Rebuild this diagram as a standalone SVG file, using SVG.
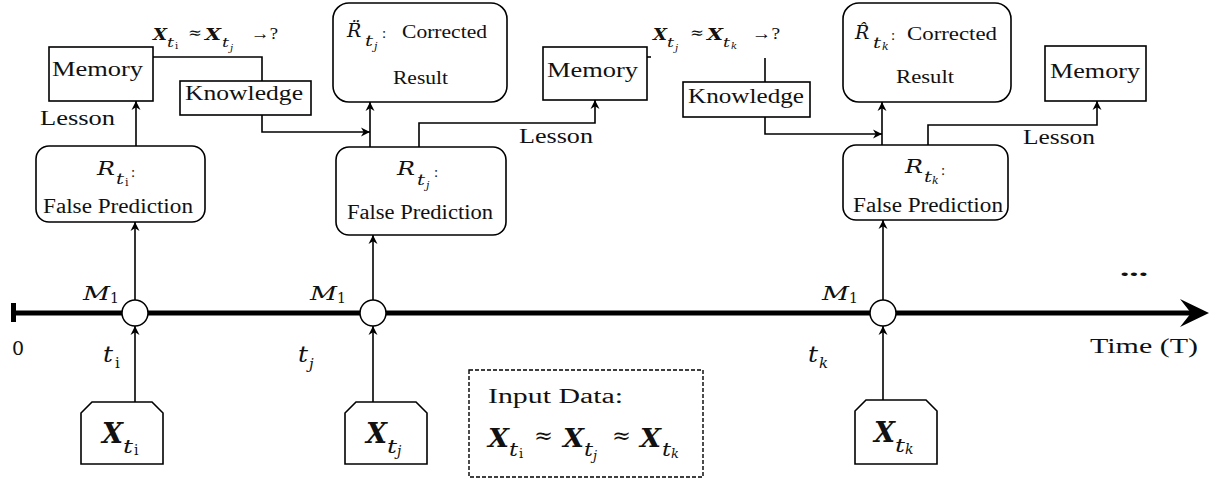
<svg xmlns="http://www.w3.org/2000/svg" width="1211" height="479" viewBox="0 0 1211 479">
  <defs>
    <style>
      .box { fill: #fff; stroke: #000; stroke-width: 1.6; }
      .dash { fill: #fff; stroke: #000; stroke-width: 1.4; stroke-dasharray: 4 2; }
      .conn { fill: none; stroke: #000; stroke-width: 1.6; }
      .t { font-family: "Liberation Serif", "Times New Roman", serif; fill: #111; }
      .m { font-family: "DejaVu Serif", "Liberation Serif", serif; fill: #111; }
      .w20 { font-size: 20px; }
      .w18 { font-size: 18px; }
      .mi { font-style: italic; }
      .mb { font-style: italic; font-weight: bold; }
    </style>
    <marker id="ah" viewBox="0 0 10 10" refX="10" refY="5" markerWidth="9" markerHeight="10" markerUnits="userSpaceOnUse" orient="auto">
      <path d="M0,0 L10,5 L0,10 L3,5 Z" fill="#000"/>
    </marker>
  </defs>

  <!-- time axis -->
  <g id="timeline">
    <rect x="11" y="303" width="5" height="19" fill="#000"/>
    <line x1="14" y1="313" x2="1195" y2="313" stroke="#000" stroke-width="5"/>
    <path d="M1209,313 L1180,299 L1191,313 L1180,327 Z" fill="#000"/>
    <text class="m" x="12" y="355" font-size="19">0</text>
    <text class="t" x="1090" y="353" font-size="21" textLength="108" lengthAdjust="spacingAndGlyphs">Time (T)</text>
    <text class="t" x="1120" y="276" font-size="20" font-weight="bold" textLength="28" lengthAdjust="spacingAndGlyphs">...</text>
  </g>

  <!-- connectors -->
  <g id="connectors" class="conn">
    <!-- inputs into the model nodes -->
    <line x1="135" y1="402" x2="135" y2="326" marker-end="url(#ah)"/>
    <line x1="373" y1="402" x2="373" y2="326" marker-end="url(#ah)"/>
    <line x1="883" y1="400" x2="883" y2="326" marker-end="url(#ah)"/>
    <!-- model nodes to predictions -->
    <line x1="135" y1="300" x2="135" y2="222" marker-end="url(#ah)"/>
    <line x1="373" y1="300" x2="373" y2="235" marker-end="url(#ah)"/>
    <line x1="883" y1="300" x2="883" y2="220" marker-end="url(#ah)"/>
    <!-- lesson to memory -->
    <line x1="136" y1="146" x2="136" y2="101" marker-end="url(#ah)"/>
    <polyline points="419,147 419,123 595,123 595,100" marker-end="url(#ah)"/>
    <polyline points="928,145 928,125 1097,125 1097,101" marker-end="url(#ah)"/>
    <!-- memory to knowledge -->
    <polyline points="153,57 262,57 262,81"/>
    <line x1="647" y1="57" x2="651" y2="57"/>
    <line x1="765" y1="58" x2="765" y2="82"/>
    <!-- knowledge into correction -->
    <polyline points="262,115 262,132 370,132" marker-end="url(#ah)"/>
    <polyline points="765,117 765,134 882,134" marker-end="url(#ah)"/>
    <!-- prediction to corrected result -->
    <line x1="370" y1="147" x2="370" y2="102" marker-end="url(#ah)"/>
    <line x1="882" y1="145" x2="882" y2="102" marker-end="url(#ah)"/>
  </g>

  <!-- model nodes on the axis -->
  <g id="node-m1-i">
    <circle cx="135" cy="313" r="13" fill="#fff" stroke="#000" stroke-width="1.5"/>
    <text class="m mi" x="83" y="300" font-size="19" textLength="27" lengthAdjust="spacingAndGlyphs">M</text>
    <text class="m" x="110" y="303" font-size="14">1</text>
    <text class="m mi" x="103" y="362" font-size="22" textLength="10" lengthAdjust="spacingAndGlyphs">t</text>
    <text class="m" x="115" y="368" font-size="15">i</text>
  </g>
  <g id="node-m1-j">
    <circle cx="373" cy="313" r="13" fill="#fff" stroke="#000" stroke-width="1.5"/>
    <text class="m mi" x="310" y="300" font-size="19" textLength="27" lengthAdjust="spacingAndGlyphs">M</text>
    <text class="m" x="337" y="303" font-size="14">1</text>
    <text class="m mi" x="298" y="362" font-size="22" textLength="10" lengthAdjust="spacingAndGlyphs">t</text>
    <text class="m mi" x="309" y="369" font-size="15">j</text>
  </g>
  <g id="node-m1-k">
    <circle cx="883" cy="313" r="13" fill="#fff" stroke="#000" stroke-width="1.5"/>
    <text class="m mi" x="822" y="300" font-size="19" textLength="27" lengthAdjust="spacingAndGlyphs">M</text>
    <text class="m" x="849" y="303" font-size="14">1</text>
    <text class="m mi" x="808" y="362" font-size="22" textLength="10" lengthAdjust="spacingAndGlyphs">t</text>
    <text class="m mi" x="819" y="368" font-size="15">k</text>
  </g>

  <!-- input samples -->
  <g id="input-i">
    <path class="box" d="M81,464 V413 L92,402 H152 L163,413 V464 Z"/>
    <text class="m mb" x="102" y="443" font-size="27" textLength="21" lengthAdjust="spacingAndGlyphs">X</text>
    <text class="m mi" x="123" y="453" font-size="19" textLength="10" lengthAdjust="spacingAndGlyphs">t</text>
    <text class="m" x="134" y="455" font-size="14">i</text>
  </g>
  <g id="input-j">
    <path class="box" d="M345,464 V413 L356,402 H416 L427,413 V464 Z"/>
    <text class="m mb" x="366" y="443" font-size="27" textLength="21" lengthAdjust="spacingAndGlyphs">X</text>
    <text class="m mi" x="387" y="453" font-size="19" textLength="10" lengthAdjust="spacingAndGlyphs">t</text>
    <text class="m mi" x="397" y="456" font-size="14">j</text>
  </g>
  <g id="input-k">
    <path class="box" d="M855,464 V411 L866,400 H926 L937,411 V464 Z"/>
    <text class="m mb" x="874" y="442" font-size="27" textLength="21" lengthAdjust="spacingAndGlyphs">X</text>
    <text class="m mi" x="895" y="452" font-size="19" textLength="10" lengthAdjust="spacingAndGlyphs">t</text>
    <text class="m mi" x="905" y="454" font-size="14">k</text>
  </g>

  <!-- input data legend -->
  <g id="input-legend">
    <rect class="dash" x="469" y="370" width="234" height="107"/>
    <text class="t" x="488" y="403" font-size="20" textLength="135" lengthAdjust="spacingAndGlyphs">Input Data:</text>
    <text class="m mb" x="488" y="447" font-size="26" textLength="21" lengthAdjust="spacingAndGlyphs">X</text>
    <text class="m mi" x="509" y="456" font-size="18" textLength="9" lengthAdjust="spacingAndGlyphs">t</text>
    <text class="m" x="519" y="458" font-size="13">i</text>
    <text class="m" x="534" y="443" font-size="22" textLength="19" lengthAdjust="spacingAndGlyphs">≈</text>
    <text class="m mb" x="563" y="447" font-size="26" textLength="21" lengthAdjust="spacingAndGlyphs">X</text>
    <text class="m mi" x="584" y="456" font-size="18" textLength="9" lengthAdjust="spacingAndGlyphs">t</text>
    <text class="m mi" x="593" y="460" font-size="13">j</text>
    <text class="m" x="612" y="443" font-size="22" textLength="19" lengthAdjust="spacingAndGlyphs">≈</text>
    <text class="m mb" x="640" y="447" font-size="26" textLength="21" lengthAdjust="spacingAndGlyphs">X</text>
    <text class="m mi" x="662" y="456" font-size="18" textLength="9" lengthAdjust="spacingAndGlyphs">t</text>
    <text class="m mi" x="671" y="458" font-size="13">k</text>
  </g>

  <!-- step i -->
  <g id="prediction-i">
    <rect class="box" x="36" y="146" width="169" height="76" rx="13"/>
    <text class="m mi" x="97" y="175" font-size="19" textLength="18" lengthAdjust="spacingAndGlyphs">R</text>
    <text class="m mi" x="116" y="184" font-size="15" textLength="8" lengthAdjust="spacingAndGlyphs">t</text>
    <text class="m" x="125" y="186" font-size="11">i</text>
    <text class="t" x="131" y="177" font-size="15">:</text>
    <text class="t w20" x="43" y="213" textLength="150" lengthAdjust="spacingAndGlyphs">False Prediction</text>
  </g>
  <g id="memory-i">
    <rect class="box" x="49" y="47" width="104" height="54"/>
    <text class="t" x="52" y="76" font-size="21" textLength="91" lengthAdjust="spacingAndGlyphs">Memory</text>
  </g>
  <g id="lesson-i">
    <text class="t w20" x="40" y="125" textLength="75" lengthAdjust="spacingAndGlyphs">Lesson</text>
  </g>
  <g id="query-ij">
    <text class="m mb" x="153" y="40" font-size="17" textLength="14" lengthAdjust="spacingAndGlyphs">X</text>
    <text class="m mi" x="167" y="47" font-size="13" textLength="7" lengthAdjust="spacingAndGlyphs">t</text>
    <text class="m" x="175" y="49" font-size="10">i</text>
    <text class="m" x="188" y="38" font-size="16" textLength="14" lengthAdjust="spacingAndGlyphs">≈</text>
    <text class="m mb" x="205" y="40" font-size="17" textLength="16" lengthAdjust="spacingAndGlyphs">X</text>
    <text class="m mi" x="222" y="47" font-size="13" textLength="7" lengthAdjust="spacingAndGlyphs">t</text>
    <text class="m mi" x="230" y="51" font-size="10">j</text>
    <text class="t" x="251" y="39" font-size="17" textLength="27" lengthAdjust="spacingAndGlyphs">→?</text>
  </g>
  <g id="knowledge-j">
    <rect class="box" x="180" y="81" width="131" height="34"/>
    <text class="t" x="185" y="100" font-size="21" textLength="118" lengthAdjust="spacingAndGlyphs">Knowledge</text>
  </g>

  <!-- step j -->
  <g id="prediction-j">
    <rect class="box" x="336" y="147" width="170" height="88" rx="13"/>
    <text class="m mi" x="397" y="175" font-size="19" textLength="18" lengthAdjust="spacingAndGlyphs">R</text>
    <text class="m mi" x="417" y="185" font-size="15" textLength="8" lengthAdjust="spacingAndGlyphs">t</text>
    <text class="m mi" x="426" y="189" font-size="11">j</text>
    <text class="t" x="434" y="177" font-size="15">:</text>
    <text class="t w20" x="347" y="219" textLength="146" lengthAdjust="spacingAndGlyphs">False Prediction</text>
  </g>
  <g id="corrected-j">
    <rect class="box" x="333" y="3" width="174" height="99" rx="16"/>
    <text class="m mi" x="347" y="37" font-size="19">R&#x308;</text>
    <text class="m mi" x="365" y="46" font-size="15" textLength="8" lengthAdjust="spacingAndGlyphs">t</text>
    <text class="m mi" x="374" y="50" font-size="11">j</text>
    <text class="t" x="382" y="38" font-size="15">:</text>
    <text class="t w18" x="402" y="38" textLength="85" lengthAdjust="spacingAndGlyphs">Corrected</text>
    <text class="t w18" x="393" y="84" textLength="55" lengthAdjust="spacingAndGlyphs">Result</text>
  </g>
  <g id="memory-j">
    <rect class="box" x="543" y="47" width="104" height="53"/>
    <text class="t" x="547" y="77" font-size="21" textLength="91" lengthAdjust="spacingAndGlyphs">Memory</text>
  </g>
  <g id="lesson-j">
    <text class="t w20" x="519" y="143" textLength="74" lengthAdjust="spacingAndGlyphs">Lesson</text>
  </g>
  <g id="query-jk">
    <text class="m mb" x="653" y="40" font-size="17" textLength="14" lengthAdjust="spacingAndGlyphs">X</text>
    <text class="m mi" x="667" y="47" font-size="13" textLength="7" lengthAdjust="spacingAndGlyphs">t</text>
    <text class="m mi" x="675" y="51" font-size="10">j</text>
    <text class="m" x="690" y="38" font-size="16" textLength="14" lengthAdjust="spacingAndGlyphs">≈</text>
    <text class="m mb" x="707" y="40" font-size="17" textLength="16" lengthAdjust="spacingAndGlyphs">X</text>
    <text class="m mi" x="723" y="47" font-size="13" textLength="7" lengthAdjust="spacingAndGlyphs">t</text>
    <text class="m mi" x="731" y="49" font-size="10">k</text>
    <text class="t" x="752" y="39" font-size="17" textLength="28" lengthAdjust="spacingAndGlyphs">→?</text>
  </g>
  <g id="knowledge-k">
    <rect class="box" x="683" y="82" width="127" height="35"/>
    <text class="t" x="688" y="103" font-size="21" textLength="116" lengthAdjust="spacingAndGlyphs">Knowledge</text>
  </g>

  <!-- step k -->
  <g id="prediction-k">
    <rect class="box" x="843" y="145" width="165" height="75" rx="13"/>
    <text class="m mi" x="905" y="173" font-size="19" textLength="18" lengthAdjust="spacingAndGlyphs">R</text>
    <text class="m mi" x="924" y="182" font-size="15" textLength="8" lengthAdjust="spacingAndGlyphs">t</text>
    <text class="m mi" x="932" y="184" font-size="11">k</text>
    <text class="t" x="941" y="175" font-size="15">:</text>
    <text class="t w20" x="853" y="212" textLength="150" lengthAdjust="spacingAndGlyphs">False Prediction</text>
  </g>
  <g id="corrected-k">
    <rect class="box" x="843" y="3" width="168" height="99" rx="16"/>
    <text class="m mi" x="855" y="39" font-size="19">R&#x302;</text>
    <text class="m mi" x="873" y="48" font-size="15" textLength="8" lengthAdjust="spacingAndGlyphs">t</text>
    <text class="m mi" x="882" y="50" font-size="11">k</text>
    <text class="t" x="891" y="40" font-size="15">:</text>
    <text class="t w18" x="907" y="40" textLength="90" lengthAdjust="spacingAndGlyphs">Corrected</text>
    <text class="t w18" x="896" y="83" textLength="58" lengthAdjust="spacingAndGlyphs">Result</text>
  </g>
  <g id="memory-k">
    <rect class="box" x="1045" y="46" width="101" height="55"/>
    <text class="t" x="1050" y="78" font-size="21" textLength="90" lengthAdjust="spacingAndGlyphs">Memory</text>
  </g>
  <g id="lesson-k">
    <text class="t w20" x="1023" y="144" textLength="72" lengthAdjust="spacingAndGlyphs">Lesson</text>
  </g>
</svg>
